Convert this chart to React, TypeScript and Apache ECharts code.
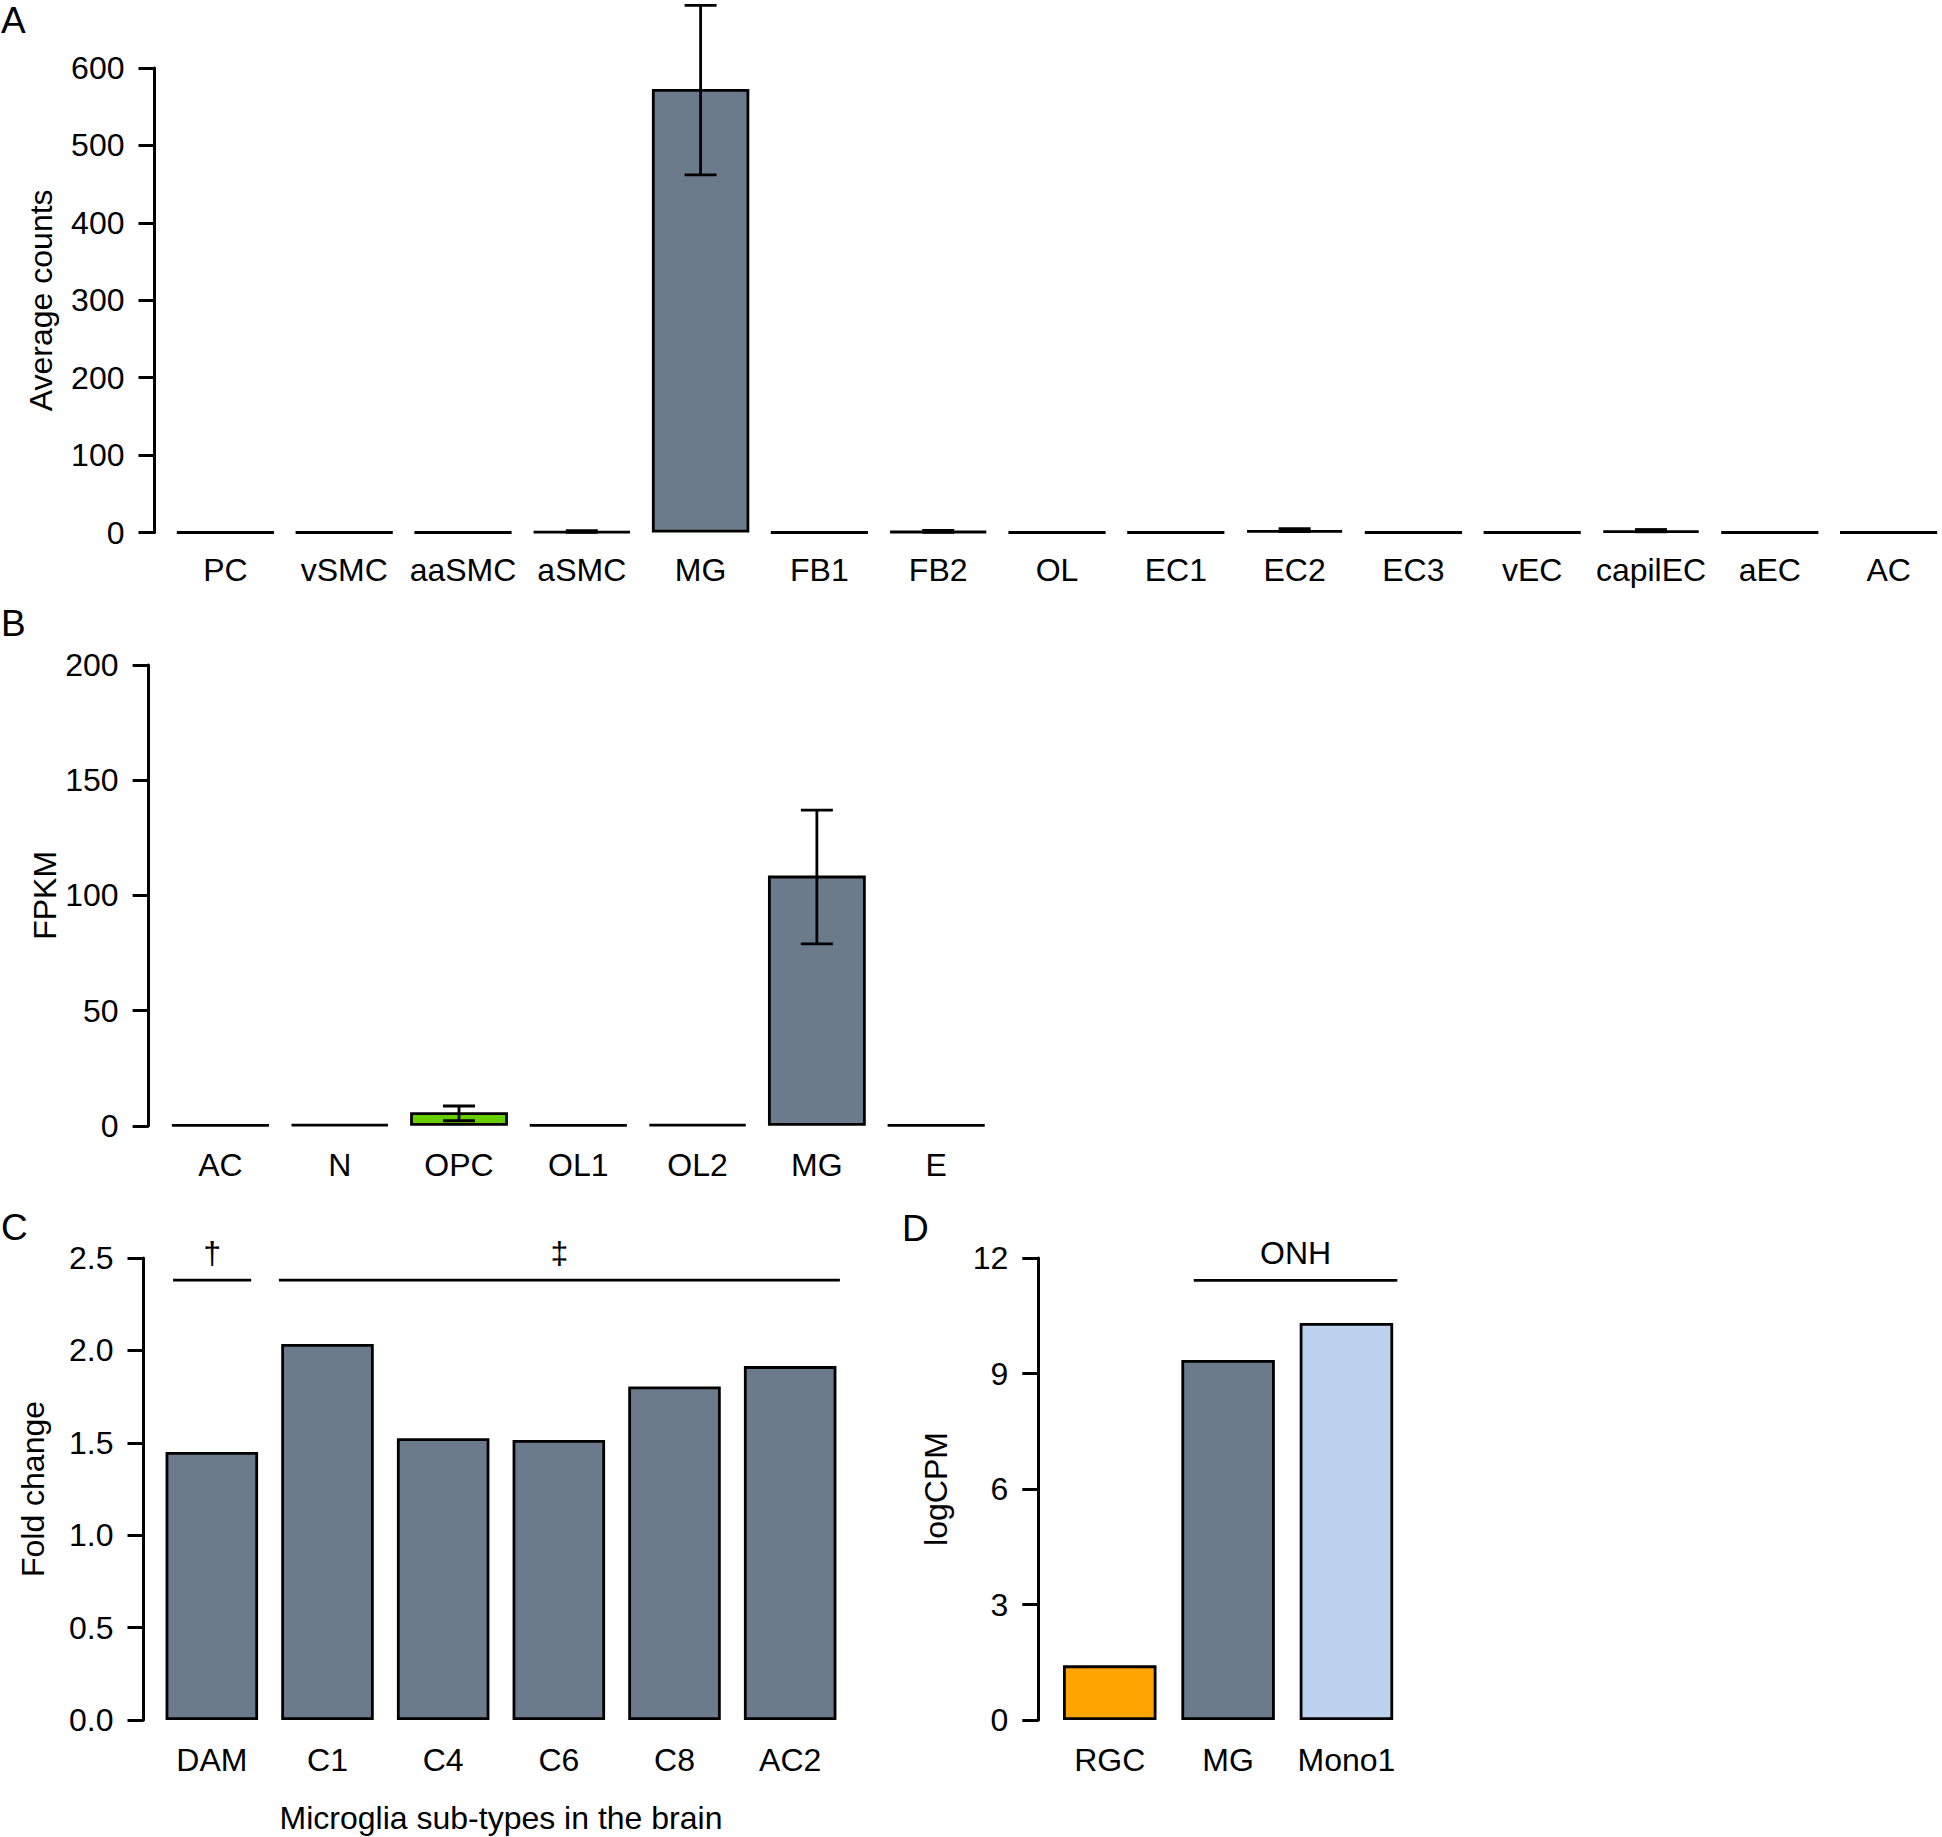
import React, { useEffect, useRef } from "react";
import * as echarts from "echarts";

// ---------- data ----------
const catsA = ["PC", "vSMC", "aaSMC", "aSMC", "MG", "FB1", "FB2", "OL", "EC1", "EC2", "EC3", "vEC", "capilEC", "aEC", "AC"];
const valsA = [0.3, 0.3, 0.3, 1.2, 573, 0.3, 1.5, 0.3, 0.3, 3, 0.3, 0.3, 2.5, 0.3, 0.3];
const errLowA = [null, null, null, 0.2, 462, null, 0.3, null, null, 1.2, null, null, 1.0, null, null];
const errHighA = [null, null, null, 2.4, 681, null, 2.8, null, null, 5.0, null, null, 4.0, null, null];
const colorsA = ["#6C7B8B", "#6C7B8B", "#6C7B8B", "#6C7B8B", "#6C7B8B", "#6C7B8B", "#6C7B8B", "#6C7B8B", "#6C7B8B", "#6C7B8B", "#6C7B8B", "#6C7B8B", "#6C7B8B", "#6C7B8B", "#6C7B8B"];
const ticksA = { min: 0, max: 600, interval: 100 };

const catsB = ["AC", "N", "OPC", "OL1", "OL2", "MG", "E"];
const valsB = [0.3, 0.6, 5.9, 0.3, 0.6, 108.6, 0.3];
const errLowB = [null, null, 2.2, null, null, 79, null];
const errHighB = [null, null, 8.6, null, null, 137, null];
const colorsB = ["#6C7B8B", "#6C7B8B", "#66CD00", "#6C7B8B", "#6C7B8B", "#6C7B8B", "#6C7B8B"];
const ticksB = { min: 0, max: 200, interval: 50 };

const catsC = ["DAM", "C1", "C4", "C6", "C8", "AC2"];
const valsC = [1.45, 2.035, 1.525, 1.515, 1.805, 1.915];
const colorsC = ["#6C7B8B", "#6C7B8B", "#6C7B8B", "#6C7B8B", "#6C7B8B", "#6C7B8B"];
const ticksC = { min: 0, max: 2.5, interval: 0.5 };
const bracketsC = [
  { from: 0, to: 0, value: 2.38, label: "\u2020", startOff: -0.335, endOff: 0.34 },
  { from: 1, to: 5, value: 2.38, label: "\u2021", startOff: -0.42, endOff: 0.43 },
];

const catsD = ["RGC", "MG", "Mono1"];
const valsD = [1.42, 9.35, 10.31];
const colorsD = ["#FFA500", "#6C7B8B", "#BCD2EE"];
const ticksD = { min: 0, max: 12, interval: 3 };
const bracketsD = [{ from: 1, to: 2, value: 11.42, label: "ONH", startOff: -0.29, endOff: 0.43 }];

// ---------- styling ----------
const FONT = "'Liberation Sans', Arial, Helvetica, sans-serif";
const FS = 32;
const LW = 2.8;

function errorData(low: (number | null)[], high: (number | null)[]) {
  const out: number[][] = [];
  low.forEach((l, i) => {
    const h = high[i];
    if (l !== null && h !== null) out.push([i, l, h]);
  });
  return out;
}

function renderError(_params: any, api: any) {
  const x = api.value(0);
  const pLo = api.coord([x, api.value(1)]);
  const pHi = api.coord([x, api.value(2)]);
  const cap = 16;
  const st = { stroke: "#000", lineWidth: LW, fill: null };
  return {
    type: "group",
    children: [
      { type: "line", shape: { x1: pLo[0], y1: pLo[1], x2: pHi[0], y2: pHi[1] }, style: st },
      { type: "line", shape: { x1: pLo[0] - cap, y1: pLo[1], x2: pLo[0] + cap, y2: pLo[1] }, style: st },
      { type: "line", shape: { x1: pHi[0] - cap, y1: pHi[1], x2: pHi[0] + cap, y2: pHi[1] }, style: st },
    ],
  };
}

function makeBracketRender(list: any[]) {
  return function (params: any, api: any) {
    const b = list[params.dataIndex];
    const band = api.size([1, 0])[0];
    const s = api.coord([b.from, b.value]);
    const e = api.coord([b.to, b.value]);
    const x1 = s[0] + b.startOff * band;
    const x2 = e[0] + b.endOff * band;
    return {
      type: "group",
      children: [
        { type: "line", shape: { x1, y1: s[1], x2, y2: s[1] }, style: { stroke: "#000", lineWidth: LW } },
        {
          type: "text",
          x: (x1 + x2) / 2,
          y: s[1] - 27,
          style: { text: b.label, fill: "#000", font: `${FS}px ${FONT}`, align: "center", verticalAlign: "middle" },
        },
      ],
    };
  };
}

function yAxis(gridIndex: number, t: any, name: string, offset: number, nameGap: number, fmt?: (v: number) => string) {
  return {
    type: "value",
    gridIndex,
    min: t.min,
    max: t.max,
    interval: t.interval,
    offset,
    name,
    nameLocation: "middle",
    nameGap,
    nameRotate: 90,
    nameTextStyle: { color: "#000", fontSize: FS, fontFamily: FONT },
    axisLine: { show: true, lineStyle: { color: "#000", width: 3 } },
    axisTick: { show: true, length: 16, lineStyle: { color: "#000", width: 3 } },
    axisLabel: { color: "#000", fontSize: FS, fontFamily: FONT, margin: 30, formatter: fmt },
    splitLine: { show: false },
  };
}

function xAxis(gridIndex: number, cats: string[], margin: number, name?: string, nameGap?: number) {
  return {
    type: "category",
    gridIndex,
    data: cats,
    name,
    nameLocation: "middle",
    nameGap,
    nameTextStyle: { color: "#000", fontSize: FS, fontFamily: FONT },
    axisLine: { show: false },
    axisTick: { show: false },
    axisLabel: { color: "#000", fontSize: FS, fontFamily: FONT, margin, interval: 0 },
    splitLine: { show: false },
  };
}

function barSeries(idx: number, vals: number[], colors: string[], gap: string) {
  return {
    type: "bar",
    xAxisIndex: idx,
    yAxisIndex: idx,
    barCategoryGap: gap,
    data: vals.map((v, i) => ({ value: v, itemStyle: { color: colors[i] } })),
    itemStyle: { borderColor: "#000", borderWidth: LW },
    z: 2,
  };
}

function panelLetter(text: string, x: number, y: number) {
  return {
    type: "text",
    x,
    y,
    style: { text, fill: "#000", font: `37px ${FONT}`, align: "left", verticalAlign: "middle" },
  };
}

export default function App() {
  const ref = useRef<HTMLDivElement>(null);
  useEffect(() => {
    if (!ref.current) return;
    const chart = echarts.init(ref.current, null, { renderer: "svg" });
    chart.setOption({
      animation: false,
      backgroundColor: "#fff",
      textStyle: { fontFamily: FONT },
      grid: [
        { left: 166, top: 68, width: 1782, height: 464.6, containLabel: false },
        { left: 160.8, top: 665, width: 835, height: 460.8, containLabel: false },
        { left: 154, top: 1258, width: 694, height: 462, containLabel: false },
        { left: 1050.6, top: 1258, width: 355, height: 462, containLabel: false },
      ],
      xAxis: [
        xAxis(0, catsA, 21),
        xAxis(1, catsB, 23.5),
        xAxis(2, catsC, 23.5, "Microglia sub-types in the brain", 82),
        xAxis(3, catsD, 23.5),
      ],
      yAxis: [
        yAxis(0, ticksA, "Average counts", 11.5, 98, undefined),
        yAxis(1, ticksB, "FPKM", 12.2, 85, undefined),
        yAxis(2, ticksC, "Fold change", 10.5, 94.5, (v: number) => v.toFixed(1)),
        yAxis(3, ticksD, "logCPM", 12.3, 86.5, undefined),
      ],
      series: [
        barSeries(0, valsA, colorsA, "18%"),
        barSeries(1, valsB, colorsB, "18%"),
        barSeries(2, valsC, colorsC, "20%"),
        barSeries(3, valsD, colorsD, "21%"),
        {
          type: "custom",
          xAxisIndex: 0,
          yAxisIndex: 0,
          clip: false,
          z: 5,
          renderItem: renderError,
          data: errorData(errLowA, errHighA),
          encode: { x: 0, y: [1, 2] },
        },
        {
          type: "custom",
          xAxisIndex: 1,
          yAxisIndex: 1,
          clip: false,
          z: 5,
          renderItem: renderError,
          data: errorData(errLowB, errHighB),
          encode: { x: 0, y: [1, 2] },
        },
        {
          type: "custom",
          xAxisIndex: 2,
          yAxisIndex: 2,
          clip: false,
          z: 5,
          renderItem: makeBracketRender(bracketsC),
          data: bracketsC.map((b) => [b.from, b.value]),
          encode: { x: 0, y: 1 },
        },
        {
          type: "custom",
          xAxisIndex: 3,
          yAxisIndex: 3,
          clip: false,
          z: 5,
          renderItem: makeBracketRender(bracketsD),
          data: bracketsD.map((b) => [b.from, b.value]),
          encode: { x: 0, y: 1 },
        },
      ],
      graphic: [
        panelLetter("A", 1, 20),
        panelLetter("B", 1, 623),
        panelLetter("C", 1, 1227),
        panelLetter("D", 902, 1228),
      ],
    });
    return () => chart.dispose();
  }, []);
  return (
    <div style={{ position: "absolute", left: 0, top: 0, width: 1942, height: 1837, overflow: "hidden", background: "#fff" }}>
      <div ref={ref} style={{ width: 1960, height: 1837 }} />
    </div>
  );
}
